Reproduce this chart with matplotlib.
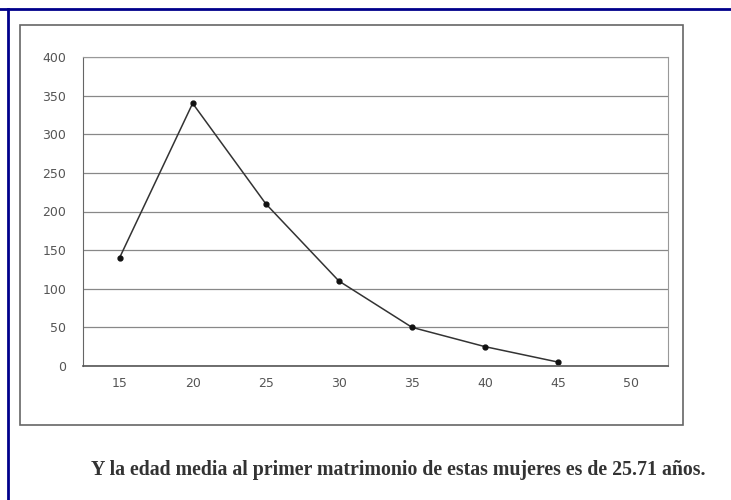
import matplotlib.pyplot as plt
from matplotlib.patches import Rectangle
from matplotlib.lines import Line2D

# edad al primer matrimonio vs numero de mujeres
edades = ["15", "20", "25", "30", "35", "40", "45", "50"]
mujeres = [140, 340, 210, 110, 50, 25, 5]
yticks = [0, 50, 100, 150, 200, 250, 300, 350, 400]
caption = "Y la edad media al primer matrimonio de estas mujeres es de 25.71 años."

fig = plt.figure(figsize=(7.31, 5), dpi=100)
fig.patch.set_facecolor("white")

# navy border of the page (only top and left visible)
fig.add_artist(Line2D([0, 1], [0.982, 0.982], transform=fig.transFigure, color="#00008b", lw=2))
fig.add_artist(Line2D([0.011, 0.011], [0, 0.982], transform=fig.transFigure, color="#00008b", lw=2))

# chart frame
fig.add_artist(Rectangle((0.0274, 0.15), 0.907, 0.8, transform=fig.transFigure,
                         fill=False, edgecolor="#666666", lw=1.2))

ax = fig.add_axes([0.1135, 0.268, 0.8003, 0.618])
x = list(range(len(mujeres)))
ax.plot(x, mujeres, color="#333333", lw=1.1, marker="o", markersize=3.5,
        markerfacecolor="#111111", markeredgecolor="#111111")

ax.set_xlim(-0.5, len(edades) - 0.5)
ax.set_ylim(0, 400)
ax.set_xticks(range(len(edades)))
ax.set_xticklabels(edades)
ax.set_yticks(yticks)
ax.tick_params(length=0, labelsize=9, colors="#555555", pad=8)
ax.tick_params(axis="y", pad=12)
ax.grid(axis="y", color="#888888", lw=0.9)
ax.set_axisbelow(True)
for s in ax.spines.values():
    s.set_color("#999999")
    s.set_linewidth(0.8)
ax.spines["left"].set_color("#666666")
ax.spines["bottom"].set_color("#555555")
ax.spines["bottom"].set_linewidth(1.2)

fig.text(0.545, 0.06, caption, ha="center", va="center", fontsize=14.3,
         family="Liberation Serif", weight="bold", color="#333333")

fig.savefig("out.png", dpi=100)
